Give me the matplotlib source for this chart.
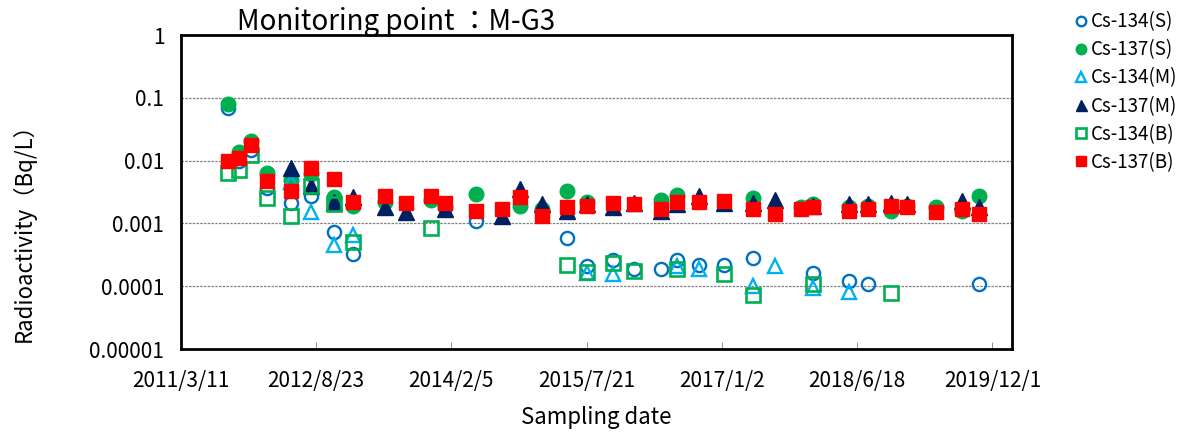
import numpy as np
import matplotlib
matplotlib.use("Agg")
import matplotlib.pyplot as plt
from datetime import datetime

plt.rcParams['font.family'] = ['Noto Sans CJK JP', 'DejaVu Sans']

# sampling dates
dates = ["2011/9/11", "2011/10/25", "2011/12/9", "2012/2/10", "2012/5/18",
         "2012/8/2", "2012/11/1", "2013/1/15", "2013/5/20", "2013/8/10",
         "2013/11/15", "2014/1/10", "2014/5/12", "2014/8/21", "2014/11/1",
         "2015/1/25", "2015/5/7", "2015/7/23", "2015/10/31", "2016/1/23",
         "2016/5/10", "2016/7/12", "2016/10/5", "2017/1/11", "2017/5/3",
         "2017/7/30", "2017/11/9", "2017/12/27", "2018/5/16", "2018/7/31",
         "2018/10/27", "2018/12/29", "2019/4/23", "2019/8/2", "2019/10/10"]

N = None
cs134_s = [0.068, 0.0100, 0.0145, 0.0036, 0.0021, 0.0027, 0.00074, 0.00033, N, N,
           N, N, 0.0011, N, N, N, 0.00058, 0.00021, 0.00026, 0.000185,
           0.00019, 0.00026, 0.00022, 0.00022, 0.00028, N, N, 0.00016, 0.000122, 0.00011,
           N, N, N, N, 0.00011]
cs137_s = [0.080, 0.0138, 0.0205, 0.0063, 0.0050, 0.0062, 0.0026, 0.0019, 0.0022, N,
           0.0024, 0.0018, 0.0029, N, 0.0019, 0.0017, 0.0033, 0.0022, N, N,
           0.0024, 0.0028, N, N, 0.0025, N, 0.0018, 0.0020, 0.0018, 0.0019,
           0.0016, 0.0019, 0.0018, 0.0016, 0.0027]
cs134_m = [N, N, N, N, 0.0046, 0.0015, 0.00046, 0.00065, N, N,
           N, N, N, N, N, N, N, 0.00016, 0.000155, N,
           N, 0.00021, 0.00019, N, 0.00010, 0.00021, N, 0.000092, 0.00008, N,
           N, N, N, N, N]
cs137_m = [N, N, N, N, 0.0076, 0.0039, 0.0022, 0.0026, 0.0018, 0.0015,
           N, 0.0017, N, 0.0013, 0.0035, 0.0020, 0.0016, 0.0020, 0.0018, 0.0021,
           0.0016, 0.0020, 0.0027, 0.0021, 0.0021, 0.0024, N, 0.0019, 0.0020, 0.0020,
           0.0021, 0.0020, N, 0.0023, 0.0018]
cs134_b = [0.0063, 0.0071, 0.0122, 0.0025, 0.0013, 0.0040, 0.0020, 0.00050, N, N,
           0.00083, N, N, N, N, N, 0.00022, 0.00017, 0.00023, 0.000172,
           N, 0.00019, N, 0.000155, 0.000072, N, N, 0.00011, N, N,
           0.000077, N, N, N, N]
cs137_b = [0.0098, 0.011, 0.0175, 0.0047, 0.0033, 0.0076, 0.0051, 0.0022, 0.0027, 0.0021,
           0.0027, 0.0021, 0.0016, 0.0017, 0.0026, 0.0013, 0.0018, 0.0019, 0.0021, 0.0020,
           0.0017, 0.0022, 0.0022, 0.0023, 0.0017, 0.0014, 0.0017, 0.0018, 0.0016, 0.0017,
           0.0019, 0.0018, 0.0015, 0.0017, 0.0014]

x_ticklabels = ["2011/3/11", "2012/8/23", "2014/2/5", "2015/7/21",
                "2017/1/2", "2018/6/18", "2019/12/1"]
x_end = "2020/2/16"
y_ticks = [1, 0.1, 0.01, 0.001, 0.0001, 0.00001]
y_labels = ["1", "0.1", "0.01", "0.001", "0.0001", "0.00001"]

def to_dt(s):
    return datetime.strptime(s, "%Y/%m/%d")

def arr(v):
    return np.array([np.nan if a is None else a for a in v], dtype=float)

x = [to_dt(d) for d in dates]

fig = plt.figure(figsize=(11.77, 4.32), dpi=100)
ax = fig.add_axes([181/1177, 1 - 349/432, (1012 - 181)/1177, (349 - 35)/432])

series = [
    (cs134_s, "Cs-134(S)", dict(marker='o', ms=9.5, mfc='none', mec='#0070C0', mew=1.7)),
    (cs137_s, "Cs-137(S)", dict(marker='o', ms=10.5, mfc='#00B050', mec='#00B050', mew=1)),
    (cs134_m, "Cs-134(M)", dict(marker='^', ms=10, mfc='none', mec='#00B0F0', mew=1.7)),
    (cs137_m, "Cs-137(M)", dict(marker='^', ms=11, mfc='#002060', mec='#002060', mew=1)),
    (cs134_b, "Cs-134(B)", dict(marker='s', ms=10, mfc='none', mec='#00B050', mew=1.9)),
    (cs137_b, "Cs-137(B)", dict(marker='s', ms=10.5, mfc='#FF0000', mec='#FF0000', mew=1)),
]
for vals, lab, st in series:
    ax.plot(x, arr(vals), linestyle='none', label=lab, **st)

ax.set_yscale('log')
ax.set_ylim(1e-5, 1)
ax.set_yticks(y_ticks)
ax.set_yticklabels(y_labels)
ax.yaxis.set_minor_locator(matplotlib.ticker.NullLocator())
ax.grid(axis='y', which='major', color='#808080', linestyle=(0, (2, 1)), linewidth=0.9)

ax.set_xlim(to_dt(x_ticklabels[0]), to_dt(x_end))
ax.set_xticks([to_dt(s) for s in x_ticklabels])
ax.set_xticklabels(x_ticklabels)

ax.tick_params(axis='x', direction='in', length=5, width=0.6, color='#808080',
               labelsize=15, pad=15)
ax.tick_params(axis='y', direction='in', length=0, labelsize=15, pad=12)
for sp in ax.spines.values():
    sp.set_linewidth(2)
    sp.set_color('black')

ax.set_xlabel("Sampling date", fontsize=16, labelpad=10)
ax.set_ylabel("Radioactivity（Bq/L）", fontsize=16)
ax.yaxis.set_label_coords(-0.175, 0.39)

fig.text(237/1177, 1 - 30/432, "Monitoring point ：M-G3", fontsize=20, ha='left', va='baseline')

ax.legend(loc='upper left', bbox_to_anchor=(1063/1177, 1.0), bbox_transform=fig.transFigure,
          frameon=False, fontsize=13.5, handlelength=0.7, handletextpad=0.2,
          labelspacing=0.38, markerscale=0.72, borderaxespad=0.2)

fig.savefig("out.png", dpi=100)
